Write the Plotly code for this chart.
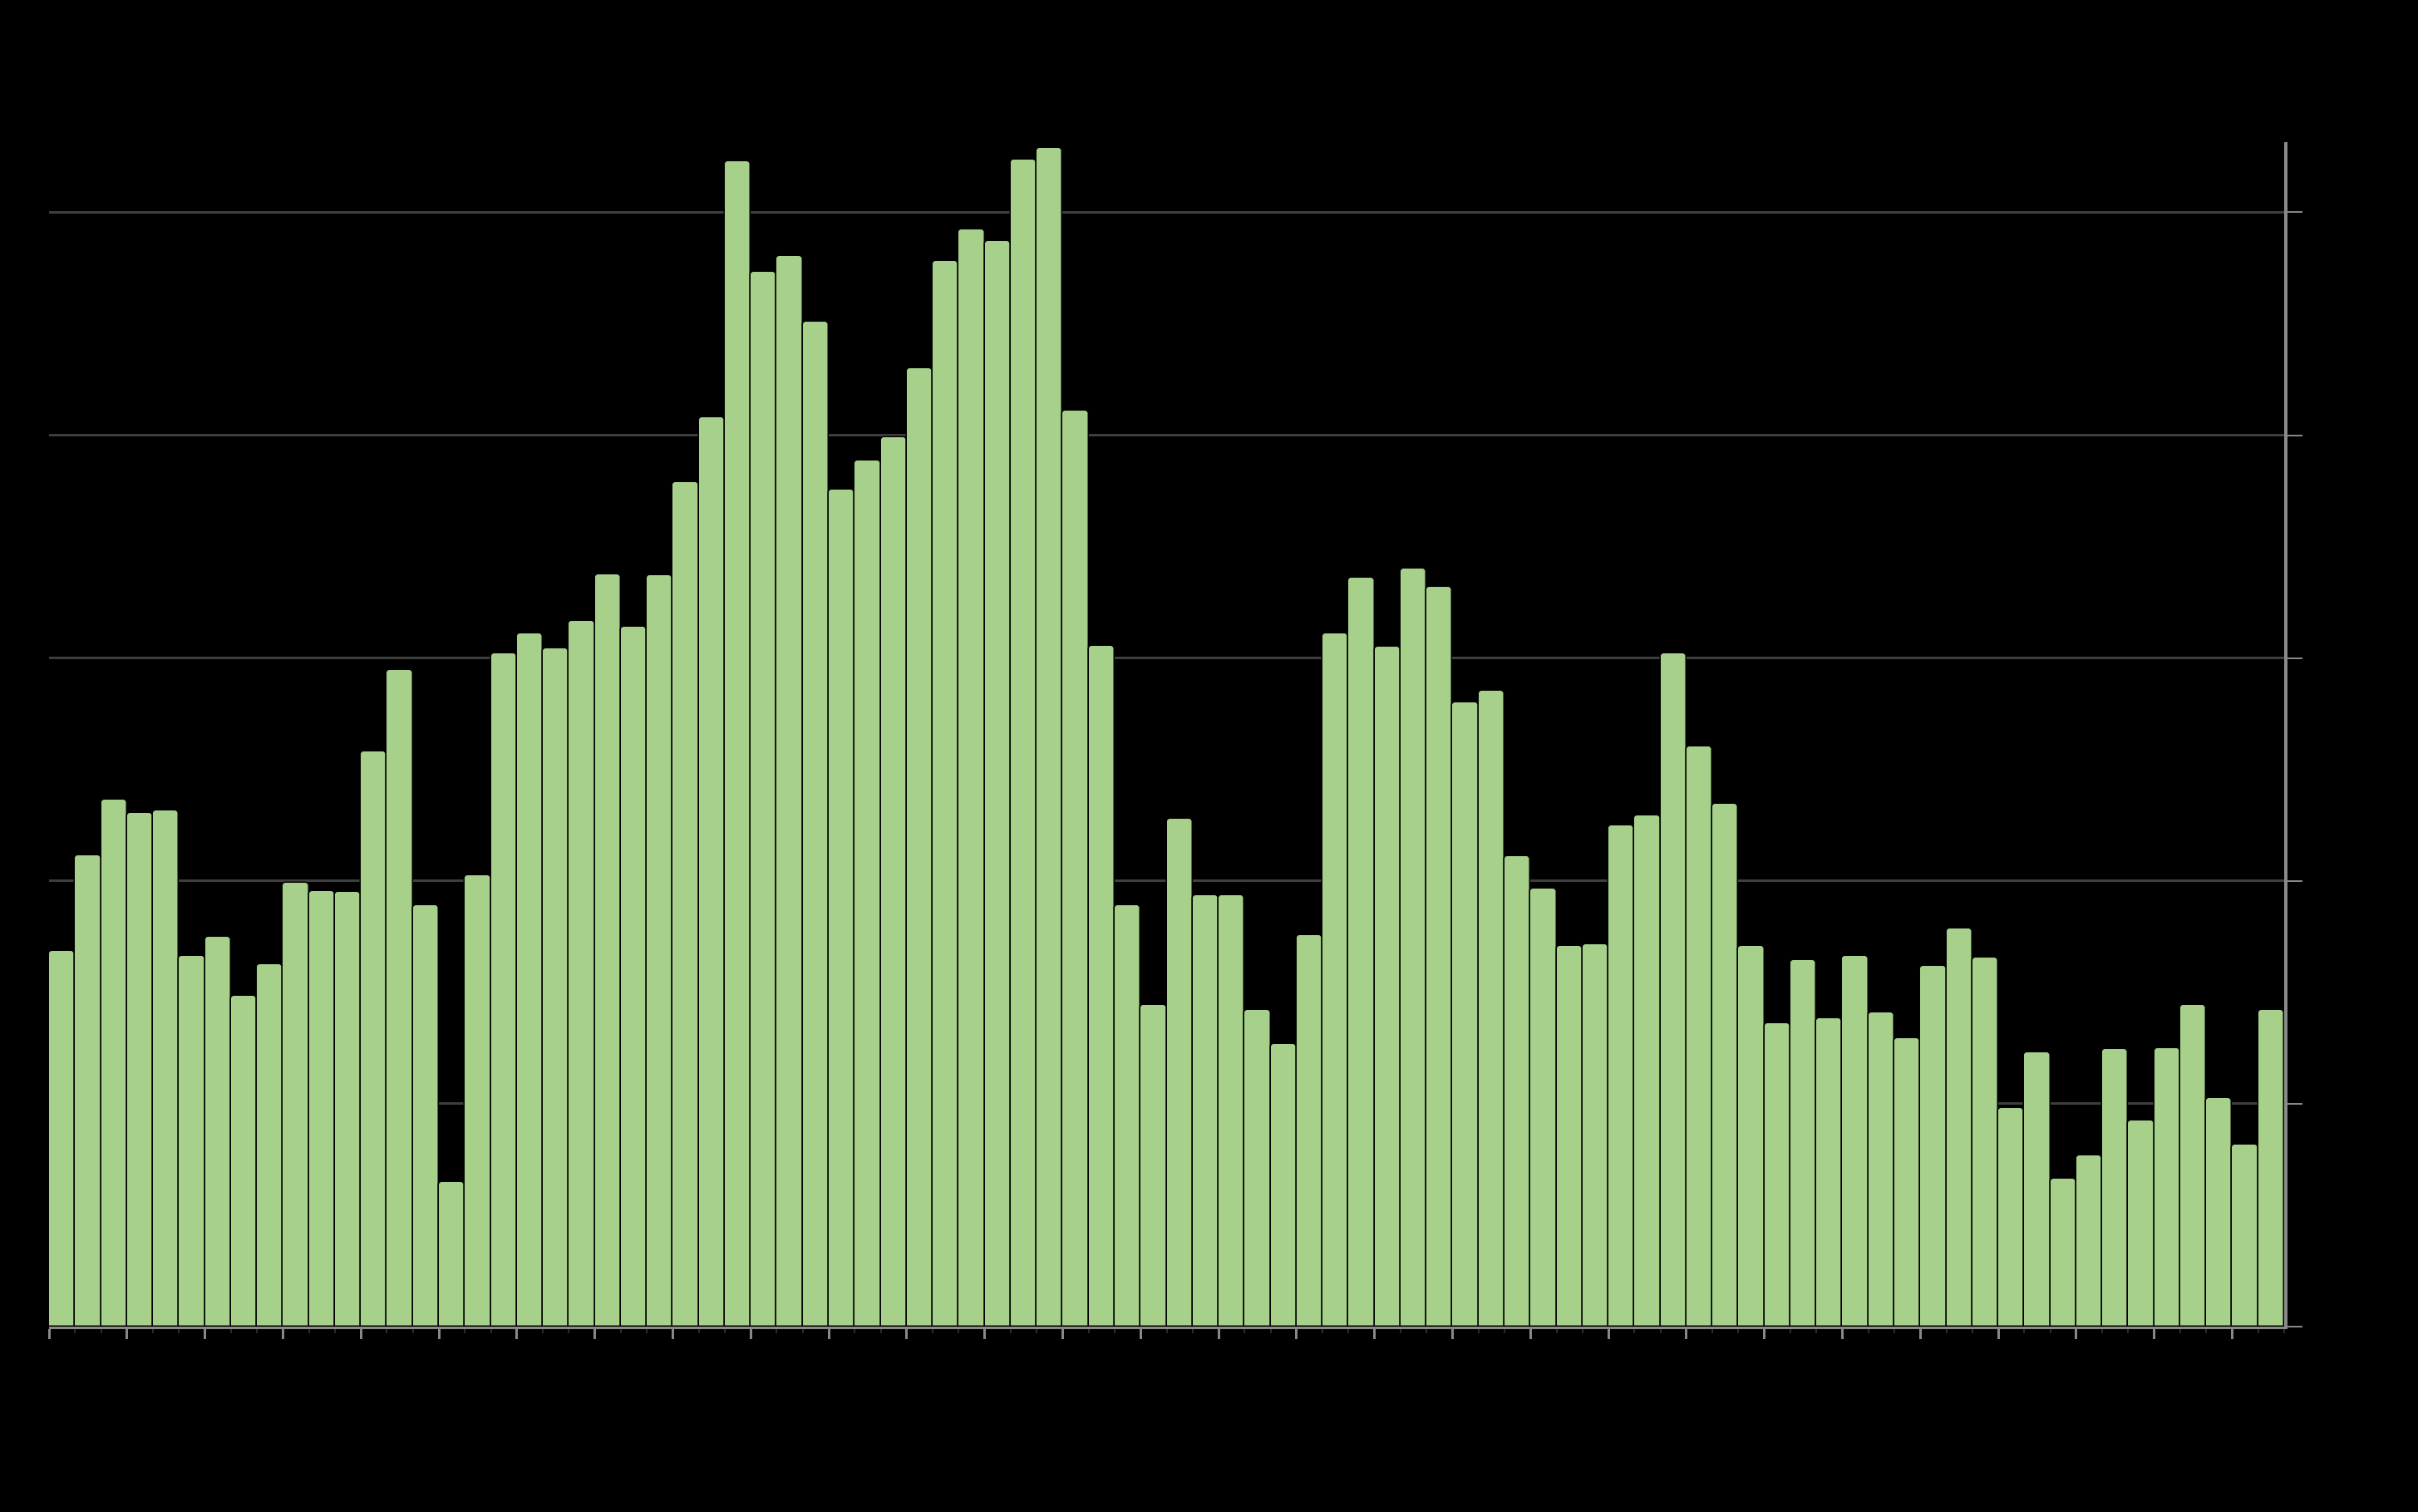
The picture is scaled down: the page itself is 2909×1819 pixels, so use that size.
import plotly.graph_objects as go

# positions of the bars (slot index, bars centred in each unit slot)
categories = [i + 0.5 for i in range(86)]

values = [
    33.7, 42.3, 47.3, 46.1, 46.3, 33.3, 35.0, 29.7, 32.5, 39.8,
    39.1, 39.0, 51.6, 58.9, 37.8, 13.0, 40.5, 60.4, 62.2, 60.9,
    63.3, 67.5, 62.8, 67.4, 75.8, 81.6, 104.6, 94.7, 96.1, 90.2,
    75.1, 77.7, 79.8, 86.0, 95.6, 98.5, 97.4, 104.7, 105.8, 82.2,
    61.1, 37.8, 28.9, 45.6, 38.7, 38.7, 28.4, 25.4, 35.1, 62.2,
    67.2, 61.0, 68.0, 66.4, 56.0, 57.1, 42.2, 39.3, 34.2, 34.3,
    45.0, 45.9, 60.4, 52.1, 46.9, 34.2, 27.2, 32.9, 27.7, 33.3,
    28.2, 25.9, 32.4, 35.7, 33.1, 19.6, 24.6, 13.3, 15.4, 24.9,
    18.5, 25.0, 28.9, 20.5, 16.3, 28.4,
]

y_ticks = [0, 20, 40, 60, 80, 100]

fig = go.Figure(
    go.Bar(
        x=categories,
        y=values,
        width=1,
        marker=dict(
            color="#a7d08b",
            line=dict(color="#000000", width=1.5),
            cornerradius=5,
        ),
        showlegend=False,
    )
)

fig.update_layout(
    width=2909,
    height=1819,
    paper_bgcolor="#000000",
    plot_bgcolor="#000000",
    margin=dict(l=59, r=161, t=171, b=223),
    bargap=0,
    font=dict(family="Liberation Sans", color="#000000", size=26),
)

fig.update_xaxes(
    range=[0, 86],
    tick0=0,
    dtick=3,
    ticks="outside",
    ticklen=12,
    tickwidth=3,
    tickcolor="#888888",
    showticklabels=False,
    showgrid=False,
    zeroline=False,
    showline=True,
    linecolor="#8a8a8a",
    linewidth=3,
    minor=dict(dtick=1, tick0=0, ticks="outside", ticklen=5, tickwidth=2, tickcolor="#2a2a2a", showgrid=False),
)

fig.update_yaxes(
    range=[0, 106.3],
    side="right",
    tickvals=y_ticks,
    ticks="outside",
    ticklen=18,
    tickwidth=2,
    tickcolor="#888888",
    showticklabels=False,
    showgrid=True,
    gridcolor="#3e3e3e",
    gridwidth=3,
    zeroline=False,
    showline=True,
    linecolor="#8a8a8a",
    linewidth=4,
)

fig.write_html(
    "out.html",
    config={"displayModeBar": False},
    post_script="document.body.style.margin='0';document.body.style.background='#000';document.body.style.overflow='hidden';",
)
